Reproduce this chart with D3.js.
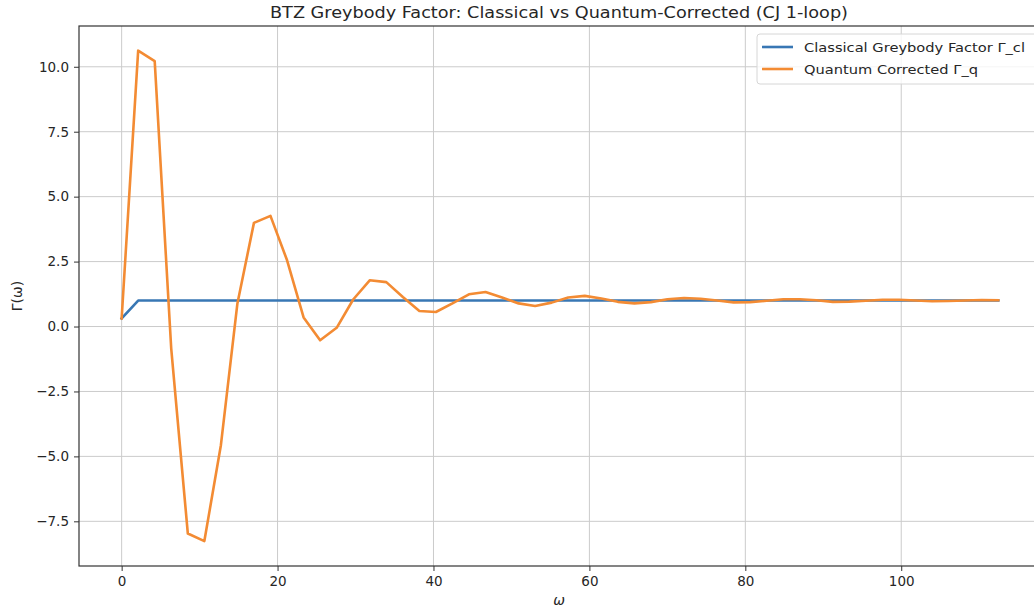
<!DOCTYPE html>
<html>
  <head>
    <meta charset="utf-8">
    <script type="text/javascript" src="https://d3js.org/d3.v7.min.js"></script>
    <style>
      body { margin: 0; background: #fff; }
      svg text { font-family: "DejaVu Sans", sans-serif; fill: #262626; }
    </style>
  </head>
  <body>
    <svg width="1034" height="611"></svg>
    <script>

    // omega values (evenly spaced samples)
    var omega = [0, 2.12, 4.24, 6.36, 8.49, 10.61, 12.73, 14.85, 16.97, 19.09,
      21.22, 23.34, 25.46, 27.58, 29.70, 31.82, 33.95, 36.07, 38.19, 40.31,
      42.43, 44.55, 46.68, 48.80, 50.92, 53.04, 55.16, 57.28, 59.41, 61.53,
      63.65, 65.77, 67.89, 70.01, 72.14, 74.26, 76.38, 78.50, 80.62, 82.74,
      84.87, 86.99, 89.11, 91.23, 93.35, 95.47, 97.60, 99.72, 101.84, 103.96,
      106.08, 108.20, 110.33, 112.45];

    // classical greybody factor
    var gammaCl = [0.31, 1.0, 1.0, 1.0, 1.0, 1.0, 1.0, 1.0, 1.0, 1.0,
      1.0, 1.0, 1.0, 1.0, 1.0, 1.0, 1.0, 1.0, 1.0, 1.0,
      1.0, 1.0, 1.0, 1.0, 1.0, 1.0, 1.0, 1.0, 1.0, 1.0,
      1.0, 1.0, 1.0, 1.0, 1.0, 1.0, 1.0, 1.0, 1.0, 1.0,
      1.0, 1.0, 1.0, 1.0, 1.0, 1.0, 1.0, 1.0, 1.0, 1.0,
      1.0, 1.0, 1.0, 1.0];

    // quantum corrected
    var gammaQ = [0.31, 10.62, 10.22, -0.85, -7.97, -8.26, -4.57, 0.89, 3.99, 4.26,
      2.55, 0.35, -0.53, -0.05, 1.04, 1.78, 1.71, 1.14, 0.60, 0.56,
      0.89, 1.24, 1.33, 1.12, 0.89, 0.79, 0.92, 1.12, 1.18, 1.08,
      0.95, 0.89, 0.94, 1.05, 1.10, 1.07, 1.00, 0.93, 0.94, 0.99,
      1.05, 1.05, 1.01, 0.95, 0.96, 0.99, 1.03, 1.03, 1.00, 0.97,
      0.98, 1.00, 1.02, 1.01];

    var xTicks = [0, 20, 40, 60, 80, 100];
    var yTicks = [-7.5, -5.0, -2.5, 0.0, 2.5, 5.0, 7.5, 10.0];

    var seriesNames = ["Classical Greybody Factor \u0393_cl", "Quantum Corrected \u0393_q"];
    var seriesColors = ["#3877b4", "#f38b33"];

    var svg = d3.select("svg");

    // plot area
    var plotLeft = 79, plotRight = 1040, plotTop = 26, plotBottom = 566;

    var x = d3.scaleLinear().domain([-5.47, 117.8]).range([plotLeft, plotRight]);
    var y = d3.scaleLinear().domain([-9.22, 11.57]).range([plotBottom, plotTop]);

    // grid
    var grid = svg.append("g").attr("class", "grid");
    grid.selectAll("line.vx")
      .data(xTicks).enter().append("line")
      .attr("x1", function(d) { return x(d); })
      .attr("x2", function(d) { return x(d); })
      .attr("y1", plotTop).attr("y2", plotBottom)
      .style("stroke", "#cbcbcb").style("stroke-width", 1);
    grid.selectAll("line.hy")
      .data(yTicks).enter().append("line")
      .attr("y1", function(d) { return y(d); })
      .attr("y2", function(d) { return y(d); })
      .attr("x1", plotLeft).attr("x2", plotRight)
      .style("stroke", "#cbcbcb").style("stroke-width", 1);

    // lines
    var line = d3.line()
      .x(function(d) { return x(d[0]); })
      .y(function(d) { return y(d[1]); });

    [gammaCl, gammaQ].forEach(function(vals, k) {
      svg.append("path")
        .datum(omega.map(function(w, i) { return [w, vals[i]]; }))
        .attr("d", line)
        .style("fill", "none")
        .style("stroke", seriesColors[k])
        .style("stroke-width", 2.6)
        .style("stroke-linejoin", "round")
        .style("stroke-linecap", "square");
    });

    // axes
    var xAxis = svg.append("g")
      .attr("transform", "translate(0," + plotBottom + ")")
      .call(d3.axisBottom(x).tickValues(xTicks).tickSize(5).tickPadding(5).tickFormat(d3.format("d")));
    var yAxis = svg.append("g")
      .attr("transform", "translate(" + plotLeft + ",0)")
      .call(d3.axisLeft(y).tickValues(yTicks).tickSize(5).tickPadding(5).tickFormat(d3.format(".1f")));

    [xAxis, yAxis].forEach(function(a) {
      a.select(".domain").remove();
      a.selectAll(".tick line").style("stroke", "#333").style("stroke-width", 1);
      a.selectAll(".tick text").style("font-size", "13.5px").style("fill", "#262626");
    });

    // spines
    svg.append("rect")
      .attr("x", plotLeft).attr("y", plotTop)
      .attr("width", plotRight - plotLeft).attr("height", plotBottom - plotTop)
      .style("fill", "none").style("stroke", "#333").style("stroke-width", 1.2);

    // title and labels
    svg.append("text")
      .attr("x", 559).attr("y", 18)
      .attr("text-anchor", "middle")
      .attr("textLength", 578).attr("lengthAdjust", "spacingAndGlyphs")
      .style("font-size", "16.5px")
      .text("BTZ Greybody Factor: Classical vs Quantum-Corrected (CJ 1-loop)");

    svg.append("text")
      .attr("x", 559).attr("y", 605)
      .attr("text-anchor", "middle")
      .style("font-size", "14px").style("font-style", "italic")
      .text("\u03c9");

    svg.append("text")
      .attr("transform", "translate(22," + ((plotTop + plotBottom) / 2) + ") rotate(-90)")
      .attr("text-anchor", "middle")
      .style("font-size", "14px")
      .text("\u0393(\u03c9)");

    // legend
    var legendWidths = [221, 174];
    var legend = svg.append("g").attr("transform", "translate(757,34)");
    legend.append("rect")
      .attr("width", 284).attr("height", 50).attr("rx", 3)
      .style("fill", "rgba(255,255,255,0.8)")
      .style("stroke", "#d6d6d6").style("stroke-width", 1);
    seriesNames.forEach(function(name, k) {
      var yy = 13 + k * 22;
      legend.append("line")
        .attr("x1", 5).attr("x2", 36).attr("y1", yy).attr("y2", yy)
        .style("stroke", seriesColors[k]).style("stroke-width", 2.6);
      legend.append("text")
        .attr("x", 47).attr("y", yy + 4.5)
        .attr("textLength", legendWidths[k]).attr("lengthAdjust", "spacingAndGlyphs")
        .style("font-size", "13px")
        .text(name);
    });

    </script>
  </body>
</html>
